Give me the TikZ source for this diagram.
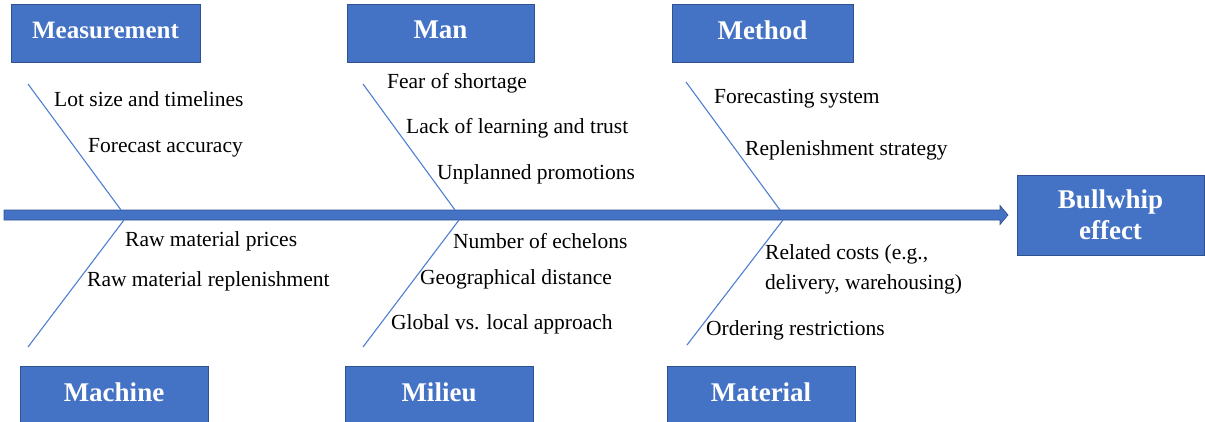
\documentclass[tikz,border=0pt]{standalone}
\usepackage{fontspec}
\setmainfont{Liberation Serif}
\usetikzlibrary{calc}
\definecolor{boxblue}{HTML}{4472C4}
\definecolor{edgeblue}{HTML}{2F528F}
\definecolor{bonecol}{HTML}{4F7FD0}
\begin{document}
\begin{tikzpicture}[x=1pt,y=-1pt,
  catbox/.style={rectangle, fill=boxblue, draw=edgeblue, line width=0.8pt,
    text=white, font=\fontsize{27}{31}\selectfont\bfseries, align=center,
    inner sep=0pt},
  onebox/.style={catbox, minimum height=58pt, text depth=6pt},
  cause/.style={anchor=west, inner sep=0pt, text=black, yshift=-1.5pt,
    font=\fontsize{21.5}{30}\selectfont, align=left},
  bone/.style={draw=bonecol, line width=1.1pt}]
\useasboundingbox (0,0) rectangle (1205,421);

% category boxes
\node[onebox, minimum width=189pt, font=\fontsize{25}{31}\selectfont\bfseries] (meas) at (105.5,33) {Measurement};
\node[onebox, minimum width=187pt] (man) at (440.5,33) {Man};
\node[onebox, minimum width=181pt] (meth) at (762.5,33) {Method};
\node[onebox, minimum width=188pt] (mach) at (114,395) {Machine};
\node[onebox, minimum width=188pt] (mil) at (439,395) {Milieu};
\node[onebox, minimum width=188pt] (mat) at (761,395) {Material};
\node[catbox, minimum width=187pt, minimum height=80pt] (bw) at (1110.5,215) {Bullwhip\\effect};

% main spine (block arrow)
\coordinate (s0) at (4,215);
\coordinate (s1) at (1008,215);
\fill[boxblue, draw=edgeblue, line width=0.7pt]
  ($(s0)+(0,-5)$) -- ($(s1)+(-8,-5)$) -- ($(s1)+(-8,-9.5)$) -- (s1)
  -- ($(s1)+(-8,9.5)$) -- ($(s1)+(-8,5)$) -- ($(s0)+(0,5)$) -- cycle;

% bones
\coordinate (m1a) at (28,84);   \coordinate (m1b) at (121,210);
\coordinate (m2a) at (124,220); \coordinate (m2b) at (28,347);
\coordinate (n1a) at (363,84);  \coordinate (n1b) at (455,210);
\coordinate (n2a) at (459,220); \coordinate (n2b) at (363,347);
\coordinate (t1a) at (686,82);  \coordinate (t1b) at (780,210);
\coordinate (t2a) at (783,220); \coordinate (t2b) at (687,345);
\draw[bone] (m1a) -- (m1b);
\draw[bone] (m2a) -- (m2b);
\draw[bone] (n1a) -- (n1b);
\draw[bone] (n2a) -- (n2b);
\draw[bone] (t1a) -- (t1b);
\draw[bone] (t2a) -- (t2b);

% causes
\node[cause] (c1) at (54,98) {Lot size and timelines};
\node[cause] (c2) at (88,146) {Forecast accuracy};
\node[cause] (c3) at (125,240) {Raw material prices};
\node[cause] (c4) at (87,280) {Raw material replenishment};
\node[cause] (c5) at (387,82) {Fear of shortage};
\node[cause] (c6) at (406,127) {Lack of learning and trust};
\node[cause] (c7) at (437,173) {Unplanned promotions};
\node[cause] (c8) at (453,240) {Number of echelons};
\node[cause] (c9) at (420,278) {Geographical distance};
\node[cause] (c10) at (391,323) {Global vs. local approach};
\node[cause] (c11) at (714,97) {Forecasting system};
\node[cause] (c12) at (745,149) {Replenishment strategy};
\node[cause] (c13) at (765,268) {Related costs (e.g.,\\delivery, warehousing)};
\node[cause] (c14) at (706,329) {Ordering restrictions};
\end{tikzpicture}
\end{document}
